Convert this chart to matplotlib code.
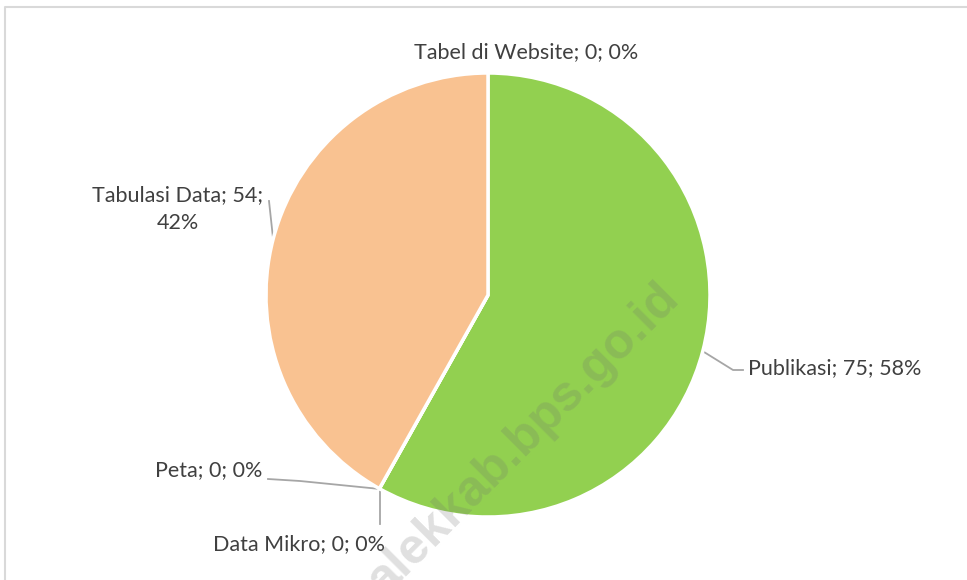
import numpy as np
import matplotlib
matplotlib.use("Agg")
import matplotlib.pyplot as plt

# data (Excel-style pie, clockwise from 12 o'clock)
categories = ['Tabel di Website', 'Publikasi', 'Data Mikro', 'Peta', 'Tabulasi Data']
values = [0, 75, 0, 0, 54]
colors = ['#5b9bd5', '#92d050', '#a5a5a5', '#ffc000', '#f9c291']

W, H = 967, 580
plt.rcParams['font.family'] = ['Lato', 'DejaVu Sans']

fig = plt.figure(figsize=(W / 100, H / 100), dpi=100)
ax = fig.add_axes([0, 0, 1, 1])
ax.set_xlim(0, W)
ax.set_ylim(H, 0)
ax.axis('off')

# pie drawn on its own axes with y-up so orientation is normal
cx, cy, r = 488, 295, 222
pax = fig.add_axes([(cx - r) / W, 1 - (cy + r) / H, 2 * r / W, 2 * r / H])
wedges, _ = pax.pie(values, colors=colors, startangle=90, counterclock=False,
                    wedgeprops=dict(edgecolor='white', linewidth=2.5))
pax.set_xlim(-1, 1)
pax.set_ylim(-1, 1)
pax.set_aspect('equal')
pax.axis('off')

# frame
ax.plot([4.5, 4.5, W], [H, 6.5, 6.5], color='#d9d9d9', lw=1.5, clip_on=False)

# watermark on top of everything
fig.text(533 / W, 1 - 449 / H, 'alekkab.bps.go.id', rotation=45, rotation_mode='anchor',
         fontsize=36, fontweight='bold', color='#707070', alpha=0.22,
         ha='center', va='baseline', family='Liberation Sans', zorder=10)

txt = dict(color='#404040', fontsize=15.5)
line = dict(color='#a6a6a6', lw=1.3)

totals = sum(values)
def lab(i):
    return f'{categories[i]}; {values[i]}; {round(100 * values[i] / totals)}%'

ax.text(526, 52, lab(0), ha='center', va='center', **txt)

ax.plot([704, 733, 743], [352, 370, 370], **line)
ax.text(748, 368, lab(1), ha='left', va='center', **txt)

ax.plot([380, 380], [490, 524], **line)
ax.text(385, 544, lab(2), ha='right', va='center', **txt)

ax.plot([268, 300, 380], [479, 481, 489], **line)
ax.text(262, 470, lab(3), ha='right', va='center', **txt)

ax.plot([269, 273], [201, 238], **line)
ax.text(178, 209, 'Tabulasi Data; 54;\n42%', ha='center', va='center',
        linespacing=1.5, **txt)

fig.savefig('out.png', dpi=100)
